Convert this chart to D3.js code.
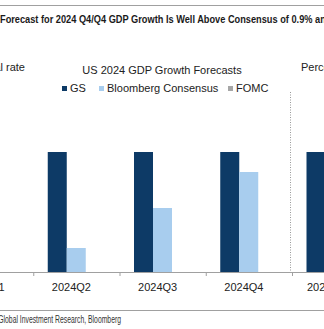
<!DOCTYPE html>
<html>
<head>
<meta charset="utf-8">
<script src="https://cdn.jsdelivr.net/npm/d3@7"></script>
<style>
  body { margin: 0; background: #fff; }
  svg { display: block; }
</style>
</head>
<body>
<div id="chart"></div>
<script>
// data (percent, annual rate)
var quarters = ["2024Q1", "2024Q2", "2024Q3", "2024Q4"];
var gsQ = [1.5, 1.5, 1.5, 1.5];
var consensusQ = [0.3, 0.3, 0.8, 1.25];
var fomcQ = [null, null, null, null];

var annualCats = ["2024Q4/Q4"];
var gsA = [1.5];
var consensusA = [0.9];
var fomcA = [1.4];

var seriesNames = ["GS", "Bloomberg Consensus", "FOMC"];
var colors = ["#0d3a66", "#a8cdee", "#a6a6a6"];

var W = 324, H = 329;
var baseY = 272;

var svg = d3.select("#chart").append("svg")
    .attr("width", W)
    .attr("height", H);

var font = "Arial, 'Liberation Sans', sans-serif";

// squeeze a text horizontally so that `prefix` spans `width` px (narrow font look)
function condensed(x, y, str, prefix, width, size, weight, anchor) {
    var probe = svg.append("text")
        .style("font-family", font).style("font-size", size + "px")
        .style("font-weight", weight).text(prefix);
    var k = width / probe.node().getComputedTextLength();
    probe.remove();
    return svg.append("text")
        .attr("transform", "translate(" + x + "," + y + ") scale(" + k + ",1)")
        .attr("text-anchor", anchor || "start")
        .style("font-family", font).style("font-size", size + "px")
        .style("font-weight", weight)
        .text(str);
}

// frame lines
svg.append("line").attr("x1", 0).attr("x2", W).attr("y1", 5.5).attr("y2", 5.5)
    .attr("stroke", "#a0a0a0").attr("stroke-width", 1);
svg.append("line").attr("x1", 0).attr("x2", W).attr("y1", 310.5).attr("y2", 310.5)
    .attr("stroke", "#a0a0a0").attr("stroke-width", 1);

// exhibit title (cropped at the right)
condensed(0, 23,
    "Forecast for 2024 Q4/Q4 GDP Growth Is Well Above Consensus of 0.9% and the FOMC",
    "Forecast for 2024 Q4/Q4 GDP Growth Is Well Above Consensus of 0.9% ",
    313, 11, "bold").attr("fill", "#1a1a1a");

// axis titles
svg.append("text").attr("x", 25).attr("y", 71).attr("text-anchor", "end")
    .style("font-family", font).style("font-size", "11px").attr("fill", "#222")
    .text("Percent, seasonally adjusted annual rate");
svg.append("text").attr("x", 301).attr("y", 71)
    .style("font-family", font).style("font-size", "11px").attr("fill", "#222")
    .text("Percent change, Q4/Q4");

// chart title
svg.append("text").attr("x", 162).attr("y", 74).attr("text-anchor", "middle")
    .style("font-family", font).style("font-size", "11px").attr("fill", "#222")
    .text("US 2024 GDP Growth Forecasts");

// legend
var legendX = [62, 99, 228];
var legend = svg.append("g");
seriesNames.forEach(function (name, i) {
    legend.append("rect")
        .attr("x", legendX[i]).attr("y", 86)
        .attr("width", 5).attr("height", 5)
        .attr("fill", colors[i]);
    legend.append("text")
        .attr("x", legendX[i] + 8).attr("y", 92)
        .style("font-family", font).style("font-size", "11px").attr("fill", "#222")
        .text(name);
});

// scales
var y = d3.scaleLinear().domain([0, 2.5]).range([baseY, 72]);

var x0 = d3.scaleBand().domain(quarters).range([-53, 292]);
var x0a = d3.scaleBand().domain(annualCats).range([292, 378]);
var inner = d3.scaleBand().domain(seriesNames).range([14.5, 71.5]);

function drawBars(xs, cats, arrs) {
    cats.forEach(function (c, ci) {
        seriesNames.forEach(function (s, si) {
            var v = arrs[si][ci];
            if (v == null) return;
            svg.append("rect")
                .attr("x", xs(c) + inner(s))
                .attr("y", y(v))
                .attr("width", inner.bandwidth())
                .attr("height", y(0) - y(v))
                .attr("fill", colors[si]);
        });
    });
}

drawBars(x0, quarters, [gsQ, consensusQ, fomcQ]);
drawBars(x0a, annualCats, [gsA, consensusA, fomcA]);

// separator between panels
svg.append("line")
    .attr("x1", 290.5).attr("x2", 290.5)
    .attr("y1", 92).attr("y2", baseY)
    .attr("stroke", "#999").attr("stroke-width", 1)
    .attr("stroke-dasharray", "1,1.5");

// x axes
function drawAxis(xs, cats, labelX, anchor) {
    var g = svg.append("g").attr("transform", "translate(0," + baseY + ")");
    g.append("line").attr("x1", xs.range()[0]).attr("x2", xs.range()[1])
        .attr("y1", 0.5).attr("y2", 0.5).attr("stroke", "#a0a0a0");
    var bounds = cats.map(function (c) { return xs(c); }).concat([xs.range()[1]]);
    bounds.forEach(function (b) {
        g.append("line").attr("x1", b + 0.5).attr("x2", b + 0.5)
            .attr("y1", 0).attr("y2", 4).attr("stroke", "#a0a0a0");
    });
    cats.forEach(function (c) {
        g.append("text")
            .attr("x", labelX(c))
            .attr("y", 19)
            .attr("text-anchor", anchor)
            .style("font-family", font).style("font-size", "11px").attr("fill", "#222")
            .text(c);
    });
}
drawAxis(x0, quarters, function (c) { return x0(c) + x0.bandwidth() / 2 - 5; }, "middle");
drawAxis(x0a, annualCats, function (c) { return x0a(c) + 15; }, "start");

// source (cropped at the left)
condensed(121, 323,
    "Source: Goldman Sachs Global Investment Research, Bloomberg",
    "Global Investment Research, Bloomberg",
    123, 10, "normal", "end").attr("fill", "#333");
</script>
</body>
</html>
